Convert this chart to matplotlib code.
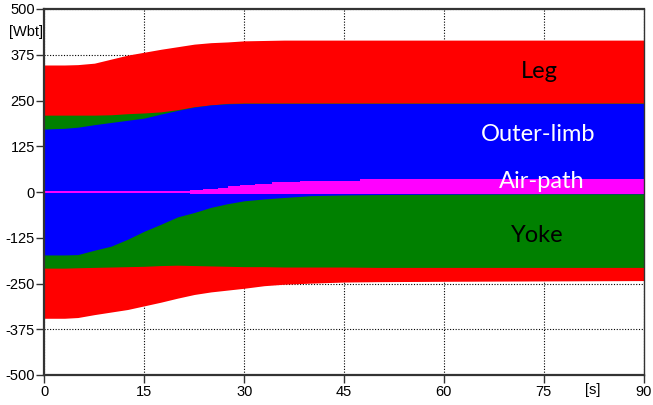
import matplotlib
matplotlib.use("Agg")
import matplotlib.pyplot as plt
import numpy as np

# time points [s]
t = [0, 3, 5, 7.5, 10, 12.5, 15, 17.5, 20, 22.5, 25, 27.5, 30, 33, 36, 40, 45, 50, 60, 75, 90]

leg_max = [347, 347, 348, 352, 363, 374, 382, 390, 397, 404, 408, 410, 413, 414, 415, 415, 415, 415, 415, 415, 415]
leg_min = [-345, -345, -343, -335, -328, -321, -311, -301, -290, -280, -273, -268, -263, -256, -252, -249, -246, -245, -244, -243, -242]

yoke_max = [210, 210, 210, 210, 211, 214, 216, 219, 225, 233, 238, 242, 243, 243, 243, 243, 243, 243, 243, 243, 243]
yoke_min = [-208, -208, -207, -206, -205, -204, -203, -201, -200, -201, -202, -203, -204, -204, -205, -205, -205, -206, -206, -206, -206]

outer_max = [172, 174, 177, 184, 190, 196, 202, 213, 223, 232, 238, 241, 242, 242, 242, 242, 242, 242, 242, 242, 242]
outer_min = [-172, -172, -171, -159, -148, -129, -107, -88, -68, -56, -42, -32, -24, -19, -15, -10, -8, -7, -6, -5, -5]

t_air = [0, 21.8, 23.8, 26.1, 27.6, 29.4, 31.6, 34.2, 38.4, 47.4, 90]
air_max = [2.5, 5.5, 8, 11, 16, 19, 22, 26, 30, 35, 35]
air_min = [-1.5, -5, -5, -5, -5, -5, -5, -5, -5, -5, -5]

x_ticks = [0, 15, 30, 45, 60, 75, 90]
y_ticks = [-500, -375, -250, -125, 0, 125, 250, 375, 500]

fig = plt.figure(figsize=(6.53, 4.05), dpi=100)
ax = fig.add_axes([44.5 / 653, 30 / 405, 599 / 653, 366 / 405])

ax.fill_between(t, leg_min, leg_max, color="#FF0000", lw=0, zorder=2)
ax.fill_between(t, yoke_min, yoke_max, color="#008000", lw=0, zorder=3)
ax.fill_between(t, outer_min, outer_max, color="#0000FF", lw=0, zorder=4)
ax.fill_between(t_air, air_min, air_max, color="#FF00FF", lw=0, step="post", zorder=5)

ax.set_xlim(0, 90)
ax.set_ylim(-500, 500)
ax.set_xticks(x_ticks)
ax.set_yticks(y_ticks)
ax.set_xticklabels([str(v) for v in x_ticks])
ax.set_yticklabels([str(v) for v in y_ticks])

ax.grid(True, color="black", linestyle=(0, (1, 1.5)), linewidth=0.8, zorder=1)
ax.set_axisbelow(True)

for s in ax.spines.values():
    s.set_color("#333333")
    s.set_linewidth(1.0)
    s.set_zorder(20)
ax.spines["left"].set_linewidth(1.6)
ax.spines["bottom"].set_linewidth(1.6)
ax.spines["top"].set_linewidth(1.6)

fam = ["Liberation Sans", "DejaVu Sans"]
ax.tick_params(axis="both", direction="out", length=5.5, width=1.0, color="#333333",
               labelsize=10.5, pad=1.5)
for lab in ax.get_xticklabels() + ax.get_yticklabels():
    lab.set_fontfamily(fam)

ax.text(-0.003, 0.937, "[Wbt]", transform=ax.transAxes, ha="right", va="center",
        fontsize=10.5, family=fam)
ax.text(82.3, -0.022, "[s]", transform=ax.get_xaxis_transform(), ha="center", va="top",
        fontsize=10.5, family=fam)

lfam = ["Lato", "DejaVu Sans"]
ax.text(74.4, 328, "Leg", ha="center", va="center", fontsize=17, color="black", family=lfam, zorder=10)
ax.text(74.2, 156, "Outer-limb", ha="center", va="center", fontsize=17, color="white", family=lfam, zorder=10)
ax.text(74.7, 29, "Air-path", ha="center", va="center", fontsize=17, color="white", family=lfam, zorder=10)
ax.text(74.1, -120, "Yoke", ha="center", va="center", fontsize=17, color="black", family=lfam, zorder=10)

fig.savefig("out.png", dpi=100)
